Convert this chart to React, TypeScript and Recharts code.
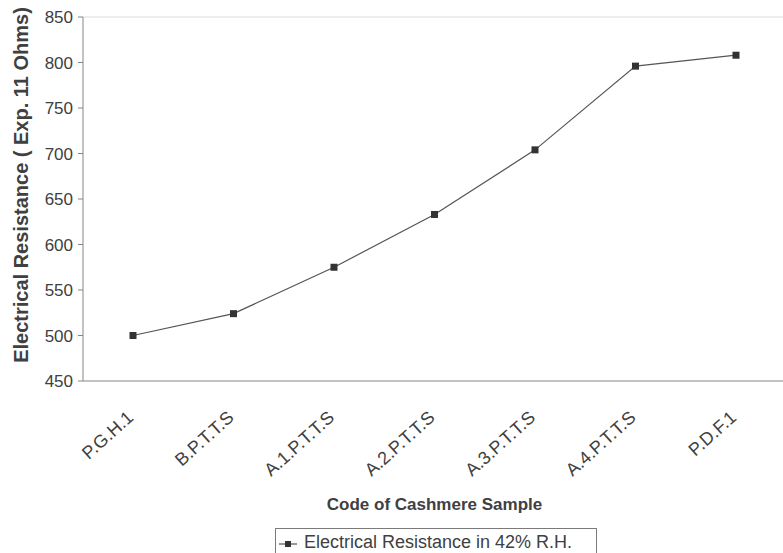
import React from 'react';
import { LineChart, Line, XAxis, YAxis, ReferenceLine, Label } from 'recharts';

// Electrical resistance of cashmere samples at 42% R.H.
const sampleCodes = ['P.G.H.1', 'B.P.T.T.S', 'A.1.P.T.T.S', 'A.2.P.T.T.S', 'A.3.P.T.T.S', 'A.4.P.T.T.S', 'P.D.F.1'];
const resistance = [500, 524, 575, 633, 704, 796, 808];
const yTicks = [450, 500, 550, 600, 650, 700, 750, 800, 850];
const edgeTicks = [1, 2, 3, 4, 5, 6, 7];

const seriesName = 'Electrical Resistance in 42% R.H.';
const xTitle = 'Code of Cashmere Sample';
const yTitle = 'Electrical Resistance ( Exp. 11 Ohms)';

const data = sampleCodes.map((code, i) => ({ code, value: resistance[i] }));

const textColor = '#404040';
const axisColor = '#858585';
const lineColor = '#555';
const font = 'Arial, "Liberation Sans", sans-serif';

const AngledTick = (props: any) => {
  const { x, y, payload } = props;
  return (
    <text
      transform={`translate(${x + 1.5},${y + 37}) rotate(-42)`}
      textAnchor="end"
      fontSize={18}
      fill={textColor}
      fontFamily={font}
    >
      {payload.value}
    </text>
  );
};

const SquareDot = (props: any) => {
  const { cx, cy, index } = props;
  if (cx == null || cy == null) return null;
  return <rect key={`dot-${index}`} x={cx - 3.5} y={cy - 3.5} width={7} height={7} fill="#333" />;
};

const XTitle = (props: any) => {
  const vb = props.viewBox;
  return (
    <text x={vb.x + vb.width / 2} y={vb.y + 128} textAnchor="middle" fontSize={17} fontWeight="bold" fill={textColor} fontFamily={font}>
      {xTitle}
    </text>
  );
};

const YTitle = () => (
  <text x={28} y={185} transform="rotate(-90 28 185)" textAnchor="middle" fontSize={20} fontWeight="bold" fill={textColor} fontFamily={font}>
    {yTitle}
  </text>
);

export default function App() {
  return (
    <div
      style={{
        position: 'absolute',
        left: 0,
        top: 0,
        width: 783,
        height: 553,
        overflow: 'hidden',
        background: '#fff',
        fontFamily: font,
      }}
    >
      <LineChart width={790} height={553} data={data} margin={{ top: 17, right: 4, left: 0, bottom: 0 }}>
        {/* boundary ticks between categories, like Excel's category axis */}
        <XAxis
          xAxisId="a"
          type="number"
          domain={[0, 7]}
          ticks={edgeTicks}
          tick={false}
          height={1}
          tickSize={6}
          stroke={axisColor}
        />
        <XAxis
          xAxisId="b"
          dataKey="code"
          height={171}
          interval={0}
          padding={{ left: 50, right: 50 }}
          axisLine={false}
          tickLine={false}
          tickSize={0}
          tickMargin={0}
          tick={<AngledTick />}
        >
          <Label content={XTitle} />
        </XAxis>
        <YAxis
          width={83}
          domain={[450, 850]}
          ticks={yTicks}
          interval={0}
          tickSize={5}
          tickMargin={5}
          stroke={axisColor}
          tick={{ fontSize: 17, fill: textColor, fontFamily: font }}
        >
          <Label content={YTitle} />
        </YAxis>
        <ReferenceLine xAxisId="b" y={850} stroke="#dcdcdc" />
        <Line
          xAxisId="b"
          type="linear"
          dataKey="value"
          name={seriesName}
          stroke={lineColor}
          strokeWidth={1.2}
          dot={<SquareDot />}
          activeDot={false}
          isAnimationActive={false}
        />
      </LineChart>
      <div
        style={{
          position: 'absolute',
          left: 275,
          top: 528,
          width: 322,
          height: 32,
          border: '1px solid #7a7a7a',
          boxSizing: 'border-box',
          display: 'flex',
          alignItems: 'flex-start',
          paddingTop: 3,
          fontSize: 18,
          color: textColor,
          whiteSpace: 'nowrap',
        }}
      >
        <svg width={28} height={22} style={{ flex: 'none' }}>
          <line x1={3} y1={12} x2={21} y2={12} stroke={lineColor} strokeWidth={1.2} />
          <rect x={9} y={9} width={6} height={6} fill="#333" />
        </svg>
        <span>{seriesName}</span>
      </div>
    </div>
  );
}
